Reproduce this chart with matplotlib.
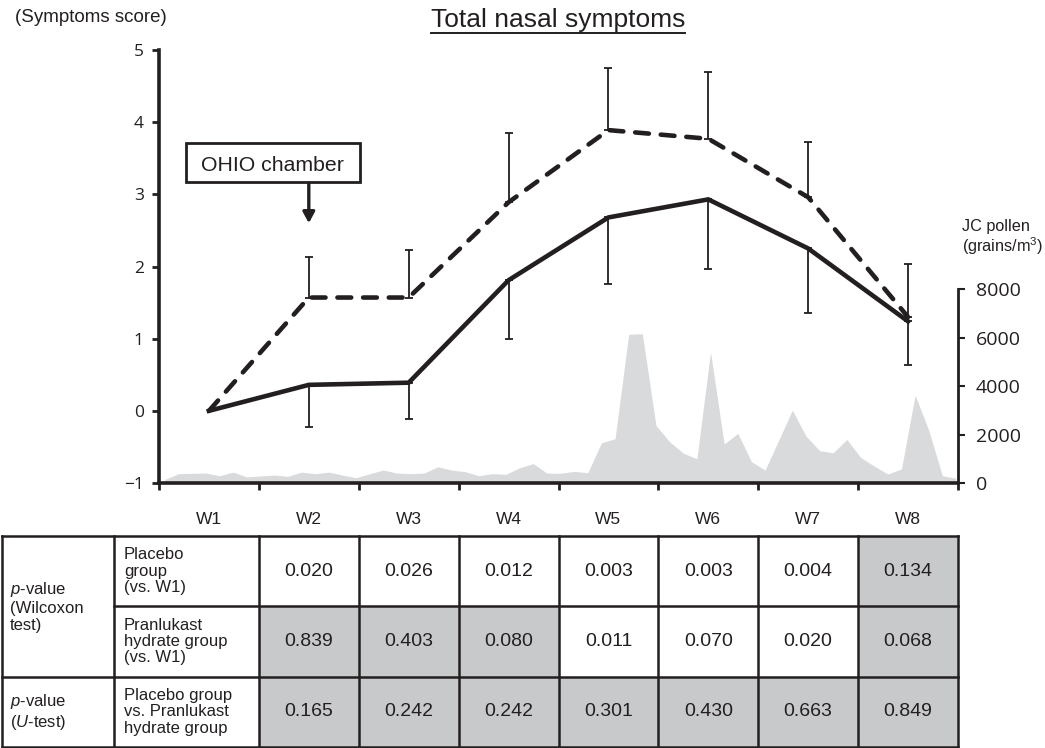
import numpy as np
import matplotlib
matplotlib.use("Agg")
import matplotlib.pyplot as plt
from matplotlib.patches import Rectangle

# ---------------- data ----------------
weeks = ["W1", "W2", "W3", "W4", "W5", "W6", "W7", "W8"]
placebo_mean = [0.0, 1.57, 1.57, 2.89, 3.89, 3.77, 2.96, 1.30]
placebo_sd_up = [0.0, 0.56, 0.66, 0.96, 0.86, 0.92, 0.76, 0.74]
pranlukast_mean = [0.0, 0.36, 0.39, 1.81, 2.68, 2.93, 2.25, 1.24]
pranlukast_sd_down = [0.0, 0.59, 0.50, 0.81, 0.92, 0.96, 0.89, 0.60]

pollen = [150, 385, 400, 410, 300, 450, 250, 290, 330, 275,
          450, 385, 450, 330, 220, 380, 535, 410, 385, 410,
          670, 535, 470, 300, 385, 360, 630, 800, 410, 400,
          480, 425, 1660, 1830, 6145, 6170, 2380, 1705, 1235, 1000,
          5415, 1610, 2050, 880, 535, 1770, 3010, 1940, 1335, 1250,
          1800, 1060, 700, 370, 580, 3630, 2185, 300, 195]

left_ticks = [-1, 0, 1, 2, 3, 4, 5]
right_ticks = [0, 2000, 4000, 6000, 8000]

row_group_labels = ["$\\it{p}$-value\n(Wilcoxon\ntest)", "$\\it{p}$-value\n($\\it{U}$-test)"]
row_labels = ["Placebo\ngroup\n(vs. W1)",
              "Pranlukast\nhydrate group\n(vs. W1)",
              "Placebo group\nvs. Pranlukast\nhydrate group"]
table_weeks = ["W2", "W3", "W4", "W5", "W6", "W7", "W8"]
p_placebo = ["0.020", "0.026", "0.012", "0.003", "0.003", "0.004", "0.134"]
p_pranlukast = ["0.839", "0.403", "0.080", "0.011", "0.070", "0.020", "0.068"]
p_utest = ["0.165", "0.242", "0.242", "0.301", "0.430", "0.663", "0.849"]
shaded_placebo = [0, 0, 0, 0, 0, 0, 1]
shaded_pranlukast = [1, 1, 1, 0, 0, 0, 1]
shaded_utest = [1, 1, 1, 1, 1, 1, 1]

# ---------------- style ----------------
plt.rcParams['font.family'] = ['Liberation Sans', 'DejaVu Sans']
plt.rcParams['mathtext.fontset'] = 'custom'
plt.rcParams['mathtext.rm'] = 'Liberation Sans'
plt.rcParams['mathtext.it'] = 'Liberation Sans:italic'
TXT = '#231f20'
GREY_POLLEN = '#d9dadc'
GREY_CELL = '#c8c9cb'

fig = plt.figure(figsize=(10.45, 7.48), dpi=100)
L, R = 159 / 1045, 958 / 1045
B, T = 1 - 483 / 748, 1 - 50 / 748
ax = fig.add_axes([L, B, R - L, T - B])
ax2 = ax.twinx()
ax.set_zorder(2)
ax.patch.set_visible(False)

xc = np.arange(len(weeks)) + 0.5

# pollen area (right axis)
n = len(pollen)
px = np.linspace(0.06, 7.98, n)
ax2.fill_between(px, 0, pollen, color=GREY_POLLEN, lw=0)
ax2.set_ylim(0, 17900)
ax2.set_yticks(right_ticks)
ax2.set_yticklabels([str(t) for t in right_ticks], fontfamily='Open Sans',
                    fontsize=14, color=TXT)
ax2.tick_params(axis='y', length=5, width=1.5, pad=8, color=TXT)
for s in ['top', 'left', 'bottom']:
    ax2.spines[s].set_visible(False)
ax2.spines['right'].set_bounds(0, 8000)
ax2.spines['right'].set_linewidth(2)
ax2.spines['right'].set_color(TXT)

# lines
ax.errorbar(xc[1:], np.array(placebo_mean)[1:],
            yerr=[np.zeros(7), np.array(placebo_sd_up)[1:]],
            fmt='none', ecolor=TXT, elinewidth=1.3, capsize=2.6, capthick=1.3)
ax.errorbar(xc[1:], np.array(pranlukast_mean)[1:],
            yerr=[np.array(pranlukast_sd_down)[1:], np.zeros(7)],
            fmt='none', ecolor=TXT, elinewidth=1.3, capsize=2.6, capthick=1.3)
ax.plot(xc, placebo_mean, color=TXT, lw=3.3, ls=(0, (3.0, 2.6)),
        dash_capstyle='round', solid_joinstyle='round')
ax.plot(xc, pranlukast_mean, color=TXT, lw=3.3, solid_joinstyle='miter')

ax.set_xlim(0, 8)
ax.set_ylim(-1, 5)
ax.set_yticks(left_ticks)
ax.set_yticklabels(["\u22121" if t < 0 else str(t) for t in left_ticks],
                   fontfamily='Open Sans', fontsize=12.5, color=TXT)
ax.tick_params(axis='y', length=5, width=2, pad=6, color=TXT)
ax.set_xticks(np.arange(0, 9))
ax.set_xticklabels([])
ax.set_xticks(xc, minor=True)
ax.set_xticklabels(weeks, minor=True, fontsize=12.5, color=TXT)
ax.tick_params(axis='x', which='major', length=5, width=2, color=TXT)
ax.tick_params(axis='x', which='minor', length=0, pad=21)
for s in ['top', 'right']:
    ax.spines[s].set_visible(False)
ax.spines['left'].set_linewidth(2.6)
ax.spines['bottom'].set_linewidth(2.6)
ax.spines['left'].set_color(TXT)
ax.spines['bottom'].set_color(TXT)

# OHIO chamber annotation
ax.add_patch(Rectangle((0.27, 3.17), 1.74, 0.54, fc='white', ec=TXT, lw=2,
                       zorder=5))
ax.text(1.14, 3.32, "OHIO chamber", ha='center', va='baseline', fontsize=15.3,
        color=TXT, zorder=6)
ax.annotate("", xy=(1.5, 2.6), xytext=(1.5, 3.17),
            arrowprops=dict(arrowstyle='-|>,head_width=0.35,head_length=0.65',
                            color=TXT, lw=2.4, shrinkA=0, shrinkB=0))

# titles and labels
title = fig.text(558 / 1045, 1 - 20 / 748, "Total nasal symptoms", ha='center',
                 va='center', fontsize=19, color=TXT)
fig.text(15 / 1045, 1 - 18 / 748, "(Symptoms score)", ha='left', va='center',
         fontsize=13.5, color=TXT)
fig.text(962 / 1045, 1 - 238 / 748, "JC pollen\n(grains/m$^3$)", ha='left',
         va='center', fontsize=11.7, color=TXT, linespacing=1.1)

# underline title
fig.canvas.draw()
bb = title.get_window_extent(fig.canvas.get_renderer())
x0, x1 = bb.x0 / fig.bbox.width, bb.x1 / fig.bbox.width
fig.add_artist(plt.Line2D([x0, x1], [1 - 32.5 / 748, 1 - 32.5 / 748],
                          color=TXT, lw=1.4))

# ---------------- table ----------------
tb_top, tb_bot = 1 - 536 / 748, 1 - 747 / 748
tax = fig.add_axes([L, tb_bot, R - L, tb_top - tb_bot])
tax.set_xlim(0, 8)
tax.set_ylim(0, 3)
tax.axis('off')
x_left = -157 / 100
x_mid = -45 / 100
rows = [p_placebo, p_pranlukast, p_utest]
shades = [shaded_placebo, shaded_pranlukast, shaded_utest]
for r, vals in enumerate(rows):
    y0 = 2 - r
    for j, v in enumerate(vals):
        c = 1 + j
        tax.add_patch(Rectangle((c, y0), 1, 1,
                                fc=GREY_CELL if shades[r][j] else 'white',
                                ec='none', clip_on=False))
        tax.text(c + 0.5, y0 + 0.5, v, ha='center', va='center',
                 fontsize=14, color=TXT)
    tax.text(x_mid + 0.1, y0 + 0.5, row_labels[r], ha='left', va='center',
             fontsize=12, color=TXT, linespacing=1.1)
tax.text(x_left + 0.08, 2.0, row_group_labels[0], ha='left', va='center',
         fontsize=12, color=TXT, linespacing=1.15)
tax.text(x_left + 0.08, 0.5, row_group_labels[1], ha='left', va='center',
         fontsize=12, color=TXT, linespacing=1.15)

lkw = dict(color=TXT, lw=1.8, clip_on=False, solid_capstyle='projecting')
# horizontal lines
tax.plot([x_left, 8], [3, 3], **lkw)
tax.plot([x_left, 8], [1, 1], **lkw)
tax.plot([x_mid, 8], [2, 2], **lkw)
tax.plot([x_left, 8], [0, 0], **lkw)
# vertical lines
for xv in [x_left, x_mid] + list(range(1, 9)):
    tax.plot([xv, xv], [0, 3], **lkw)

fig.savefig("out.png", dpi=100)
